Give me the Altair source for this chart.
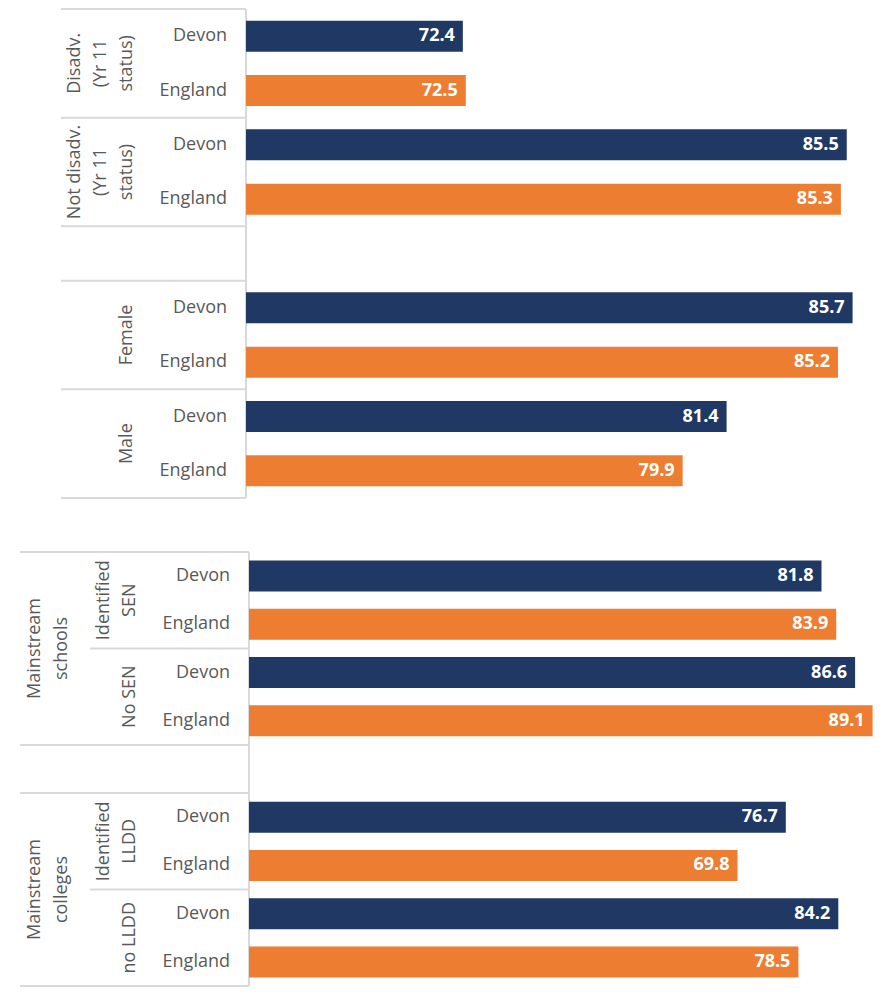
import altair as alt
import pandas as pd

areas = ["Devon", "England"]
area_colors = ["#1F3864", "#ED7D31"]

top_labels = ["Disadv.\n(Yr 11\nstatus)", "Not disadv.\n(Yr 11\nstatus)", None, "Female", "Male"]
top_values = [[72.4, 72.5], [85.5, 85.3], None, [85.7, 85.2], [81.4, 79.9]]

bottom_outer = ["Mainstream\nschools", None, "Mainstream\ncolleges"]
bottom_inner = [["Identified\nSEN", "No SEN"], None, ["Identified\nLLDD", "no LLDD"]]
bottom_values = [[[81.8, 83.9], [86.6, 89.1]], None, [[76.7, 69.8], [84.2, 78.5]]]

FONT = "Open Sans"
GRID = "#D9D9D9"
TXT = "#595959"
W = 866

# ---------- top chart data ----------
bars_t, groups_t, sep_t = [], [], []
r = 0
for lab, vals in zip(top_labels, top_values):
    sep_t.append({"row": f"a{r}"})
    if vals is None:
        r += 1
        continue
    groups_t.append({"row": f"a{r}", "label": lab})
    for a, v in zip(areas, vals):
        bars_t.append({"row": f"a{r}", "area": a, "value": v})
        r += 1
rows_t = [f"a{i}" for i in range(r)]

# ---------- bottom chart data ----------
bars_b, inner_g, outer_g, outer_sep, inner_sep = [], [], [], [], []
r = 0
for outer, inners, vals in zip(bottom_outer, bottom_inner, bottom_values):
    outer_sep.append({"row": f"b{r}"})
    if inners is None:
        r += 1
        continue
    start = r
    for j, (inn, v2) in enumerate(zip(inners, vals)):
        if j > 0:
            inner_sep.append({"row": f"b{r}"})
        inner_g.append({"row": f"b{r}", "label": inn})
        for a, v in zip(areas, v2):
            bars_b.append({"row": f"b{r}", "area": a, "value": v})
            r += 1
    outer_g.append({"row": f"b{start + 1}", "label": outer})
rows_b = [f"b{i}" for i in range(r)]

color = alt.Color("area:N", scale=alt.Scale(domain=areas, range=area_colors), legend=None)


def ydef(rows, bp=None):
    sc = alt.Scale(domain=rows, paddingInner=0, paddingOuter=0)
    if bp is None:
        return alt.Y("row:N", scale=sc, axis=None)
    return alt.Y("row:N", scale=sc, axis=None, bandPosition=bp)


def panel(bars, rows, H, xscale, base, axis_x, cat_x, label_layers, sep_layers):
    dfb = pd.DataFrame(bars)
    b = alt.Chart(dfb).mark_bar(size=31).encode(
        x=alt.X("value:Q", scale=xscale, axis=None),
        x2=alt.datum(base),
        y=ydef(rows),
        color=color,
    )
    vals = alt.Chart(dfb).mark_text(
        align="right", baseline="middle", dx=-8, color="white",
        font=FONT, fontSize=18, fontWeight="bold",
    ).encode(
        x=alt.X("value:Q", scale=xscale, axis=None),
        y=ydef(rows),
        text=alt.Text("value:Q", format=".1f"),
    )
    cats = alt.Chart(dfb).mark_text(
        align="right", baseline="middle", color=TXT, font=FONT, fontSize=18,
    ).encode(x=alt.value(cat_x), y=ydef(rows), text="area:N")
    axis_line = alt.Chart(pd.DataFrame({"row": [rows[0]]})).mark_rule(
        color=GRID, strokeWidth=2
    ).encode(x=alt.value(axis_x), y=alt.value(0), y2=alt.value(H))
    layers = [*sep_layers, axis_line, b, vals, cats, *label_layers]
    return alt.layer(*layers).properties(width=W, height=H)


def seps(data, rows, x0, x1, bp=0):
    return alt.Chart(pd.DataFrame(data)).mark_rule(color=GRID, strokeWidth=2).encode(
        y=ydef(rows, bp), x=alt.value(x0), x2=alt.value(x1)
    )


def glabels(data, rows, right_x, lh):
    """Rotated group labels; the last line sits at right_x, earlier lines to its left."""
    out = []
    counts = sorted({d["label"].count("\n") + 1 for d in data})
    for n in counts:
        sub = [d for d in data if d["label"].count("\n") + 1 == n]
        out.append(
            alt.Chart(pd.DataFrame(sub)).mark_text(
                angle=270, align="center", baseline="bottom", lineBreak="\n",
                lineHeight=lh, color=TXT, font=FONT, fontSize=18,
            ).encode(x=alt.value(right_x - (n - 1) * lh), y=ydef(rows, 1), text="label:N")
        )
    return out


HA = 489
xs_t = alt.Scale(domain=[65, 86.43], range=[238, W])
top = panel(
    bars_t, rows_t, HA, xs_t, 65, 238, 219,
    glabels(groups_t, rows_t, 128, 26),
    [seps(sep_t, rows_t, 53, 238), seps([{"row": rows_t[-1]}], rows_t, 53, 238, 1)],
)

HB = 434
xs_b = alt.Scale(domain=[0, 89.3], range=[241, W])
bottom = panel(
    bars_b, rows_b, HB, xs_b, 0, 241, 222,
    glabels(inner_g, rows_b, 131, 26) + glabels(outer_g, rows_b, 63, 27),
    [
        seps(outer_sep, rows_b, 12, 241),
        seps([{"row": rows_b[-1]}], rows_b, 12, 241, 1),
        seps(inner_sep, rows_b, 82, 241),
    ],
)

chart = alt.vconcat(top, bottom, spacing=52).properties(
    padding=0, background="white"
).configure_view(stroke=None)

chart.save("out.html", embed_options={"renderer": "svg", "actions": False})
